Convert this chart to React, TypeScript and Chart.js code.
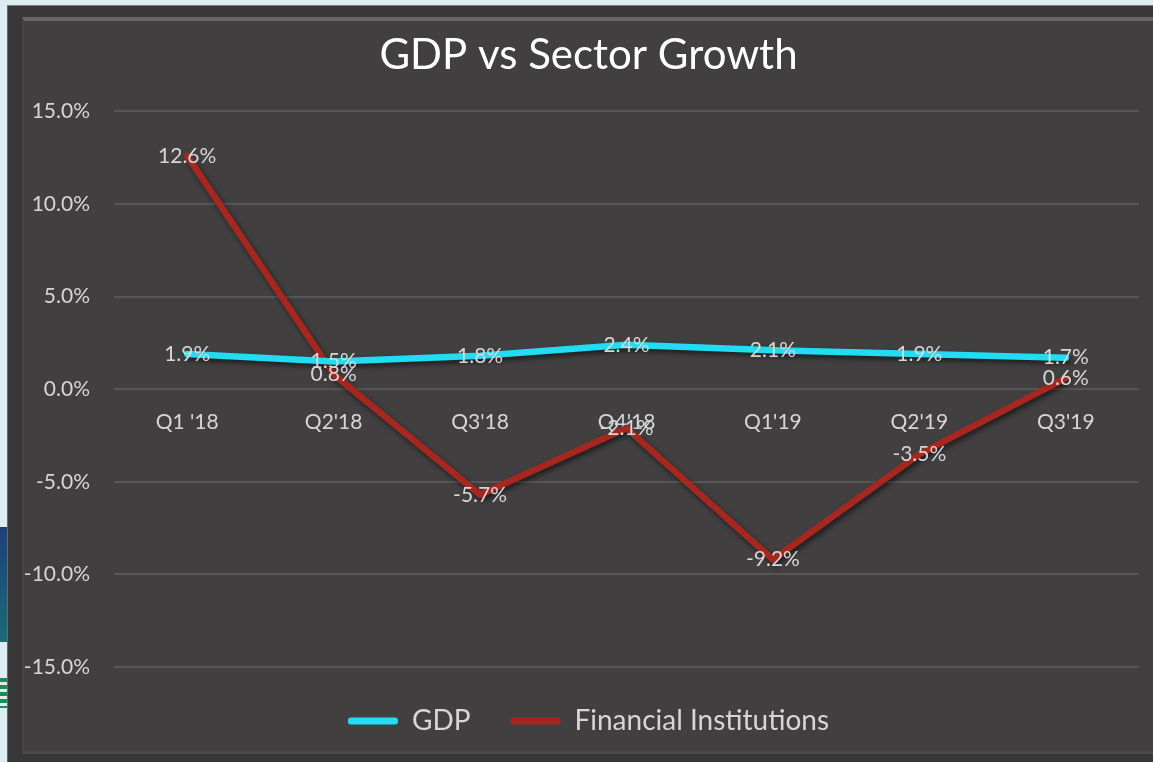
import React, { useEffect, useRef } from "react";
import { Chart, registerables } from "chart.js";

Chart.register(...registerables);

const categories = ["Q1 '18", "Q2'18", "Q3'18", "Q4'18", "Q1'19", "Q2'19", "Q3'19"];
const gdpValues = [1.9, 1.5, 1.8, 2.4, 2.1, 1.9, 1.7];
const finValues = [12.6, 0.8, -5.7, -2.1, -9.2, -3.5, 0.6];
const seriesNames = ["GDP", "Financial Institutions"];
const chartTitle = "GDP vs Sector Growth";
const yMin = -15;
const yMax = 15;
const yStep = 5;

const FONT = "Lato, 'Open Sans', sans-serif";
const TEXT = "#d6d6d6";

const lineShadow = {
  id: "lineShadow",
  beforeDatasetsDraw(chart: any) {
    const ctx = chart.ctx;
    ctx.save();
    ctx.shadowColor = "rgba(0,0,0,0.55)";
    ctx.shadowBlur = 5;
    ctx.shadowOffsetX = 2;
    ctx.shadowOffsetY = 3;
  },
  afterDatasetsDraw(chart: any) {
    chart.ctx.restore();
  },
};

const blockShift = {
  id: "blockShift",
  afterLayout(chart: any) {
    if (chart.legend) {
      chart.legend.left += 19;
      chart.legend.right += 19;
    }
    if (chart.titleBlock) {
      chart.titleBlock.left += 19;
      chart.titleBlock.right += 19;
    }
  },
};

const dataLabels = {
  id: "dataLabels",
  afterDatasetsDraw(chart: any) {
    const ctx = chart.ctx;
    ctx.save();
    ctx.font = `21px ${FONT}`;
    ctx.fillStyle = TEXT;
    ctx.textAlign = "center";
    ctx.textBaseline = "middle";
    chart.data.datasets.forEach((ds: any, di: number) => {
      const meta = chart.getDatasetMeta(di);
      meta.data.forEach((el: any, i: number) => {
        const v = ds.data[i] as number;
        ctx.fillText(v.toFixed(1) + "%", el.x, el.y);
      });
    });
    ctx.restore();
  },
};

export default function App() {
  const ref = useRef<HTMLCanvasElement | null>(null);

  useEffect(() => {
    if (!ref.current) return;
    const chart = new Chart(ref.current, {
      type: "line",
      data: {
        labels: categories,
        datasets: [
          {
            label: seriesNames[0],
            data: gdpValues,
            borderColor: "#22dcf4",
            backgroundColor: "#22dcf4",
            borderWidth: 6.5,
            pointRadius: 0,
            tension: 0,
            borderCapStyle: "round",
            borderJoinStyle: "round",
          },
          {
            label: seriesNames[1],
            data: finValues,
            borderColor: "#a5271f",
            backgroundColor: "#a5271f",
            borderWidth: 6.5,
            pointRadius: 0,
            tension: 0,
            borderCapStyle: "round",
            borderJoinStyle: "round",
          },
        ],
      },
      options: {
        animation: false,
        responsive: false,
        maintainAspectRatio: false,
        layout: { padding: { left: 0, right: 14, top: 0, bottom: 17 } },
        plugins: {
          tooltip: { enabled: false },
          title: {
            display: true,
            text: chartTitle,
            color: "#ffffff",
            font: { family: FONT, size: 42, weight: "normal" },
            padding: { top: 30, bottom: 31 },
          },
          legend: {
            position: "bottom",
            labels: {
              color: TEXT,
              font: { family: FONT, size: 28 },
              boxWidth: 50,
              boxHeight: 7,
              padding: 40,
              useBorderRadius: true,
              borderRadius: 3,
              generateLabels: (c: any) =>
                c.data.datasets.map((ds: any, i: number) => ({
                  text: ds.label,
                  fillStyle: ds.borderColor,
                  strokeStyle: ds.borderColor,
                  lineWidth: 0,
                  fontColor: TEXT,
                  borderRadius: 3,
                  datasetIndex: i,
                  hidden: false,
                })),
            },
          },
        },
        scales: {
          x: {
            type: "category",
            offset: true,
            position: { y: 0 } as any,
            grid: { display: false, drawTicks: false },
            border: { display: false },
            ticks: {
              color: TEXT,
              font: { family: FONT, size: 21 },
              padding: 20,
              maxRotation: 0,
              autoSkip: false,
            },
            afterFit: (s: any) => {
              s.height = 39;
            },
          },
          y: {
            min: yMin,
            max: yMax,
            grid: { color: "#575555", lineWidth: 2, drawTicks: false },
            border: { display: false },
            ticks: {
              stepSize: yStep,
              color: TEXT,
              font: { family: FONT, size: 21 },
              padding: 24,
              callback: (v: any) => Number(v).toFixed(1) + "%",
            },
            afterFit: (s: any) => {
              s.width = 114;
            },
          },
        },
      },
      plugins: [lineShadow, blockShift, dataLabels],
    });
    return () => chart.destroy();
  }, []);

  return (
    <div style={{ position: "fixed", inset: 0, background: "#dcedf2", overflow: "hidden" }}>
      <div style={{ position: "absolute", left: 0, top: 527, width: 7, height: 115, background: "linear-gradient(#1f3f78, #1c6b74)" }} />
      <div style={{ position: "absolute", left: 0, top: 678, width: 7, height: 30, background: "repeating-linear-gradient(#1e8a55 0 4px, #dcedf2 4px 7px)" }} />
      <div
        style={{
          position: "absolute",
          left: 7,
          top: 5,
          width: 1150,
          height: 760,
          background: "#393737",
          borderTop: "1px solid #7a7878",
          borderLeft: "1px solid #6a6868",
        }}
      >
        <div
          style={{
            position: "absolute",
            left: 14,
            top: 11,
            right: 0,
            bottom: 12,
            background: "#413f40",
            borderTop: "4px solid #676565",
            borderBottom: "3px solid #4a4848",
            borderLeft: "2px solid #454343",
          }}
        />
      </div>
      <canvas ref={ref} width={1153} height={762} style={{ position: "absolute", left: 0, top: 0, width: 1153, height: 762 }} />
    </div>
  );
}
